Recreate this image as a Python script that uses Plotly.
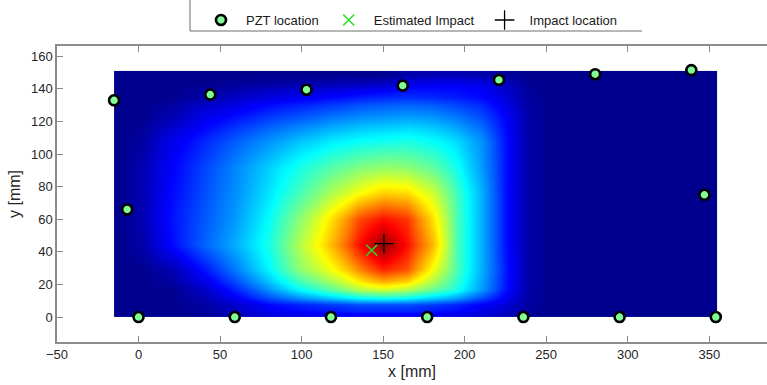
import plotly.graph_objects as go

# --- sensor layout [mm] ---
pzt_x = [0, 59, 118, 177, 236, 295, 354,
         -15, 44, 103, 162, 221, 280, 339,
         -7, 347]
pzt_y = [0, 0, 0, 0, 0, 0, 0,
         133, 136.5, 139.5, 142, 145.5, 149, 151.5,
         66, 75]

est_x = [143]
est_y = [41]
imp_x = [150.5]
imp_y = [45]

# --- damage index map: cell edges [mm] and normalised values ---
map_x_edges = [-15, -5, 10, 30, 50, 70, 90, 110, 128, 142, 158, 172,
               188, 202, 218, 232, 245, 260, 355]
map_y_edges = [0, 4, 12, 22, 36, 52, 68, 84, 100, 116, 130, 140, 146, 151]

map_z = [
    [0, 0, 0, 0.01, 0.05, 0.09, 0.10, 0.11, 0.12, 0.12, 0.12, 0.11, 0.10, 0.08, 0.05, 0.01, 0, 0],
    [0, 0, 0, 0.02, 0.07, 0.13, 0.16, 0.18, 0.20, 0.20, 0.20, 0.18, 0.16, 0.12, 0.08, 0.02, 0, 0],
    [0, 0, 0, 0.06, 0.16, 0.27, 0.38, 0.47, 0.55, 0.58, 0.55, 0.48, 0.40, 0.28, 0.14, 0.03, 0, 0],
    [0, 0, 0.04, 0.14, 0.25, 0.37, 0.52, 0.62, 0.74, 0.84, 0.79, 0.62, 0.45, 0.30, 0.15, 0.03, 0, 0],
    [0, 0.03, 0.13, 0.22, 0.30, 0.40, 0.56, 0.70, 0.86, 0.98, 0.86, 0.70, 0.45, 0.30, 0.14, 0.03, 0, 0],
    [0, 0.04, 0.14, 0.21, 0.28, 0.38, 0.52, 0.66, 0.80, 0.86, 0.82, 0.66, 0.45, 0.30, 0.14, 0.03, 0, 0],
    [0, 0.04, 0.13, 0.20, 0.27, 0.35, 0.45, 0.55, 0.62, 0.67, 0.66, 0.58, 0.44, 0.30, 0.14, 0.03, 0, 0],
    [0, 0.04, 0.12, 0.19, 0.26, 0.33, 0.40, 0.46, 0.50, 0.52, 0.51, 0.47, 0.39, 0.28, 0.14, 0.03, 0, 0],
    [0, 0.02, 0.10, 0.16, 0.22, 0.27, 0.32, 0.36, 0.38, 0.39, 0.40, 0.38, 0.34, 0.27, 0.14, 0.03, 0, 0],
    [0, 0, 0.04, 0.10, 0.14, 0.18, 0.21, 0.24, 0.26, 0.27, 0.28, 0.27, 0.24, 0.20, 0.12, 0.03, 0, 0],
    [0, 0, 0, 0.03, 0.06, 0.09, 0.11, 0.13, 0.15, 0.16, 0.17, 0.16, 0.15, 0.13, 0.08, 0.02, 0, 0],
    [0, 0, 0, 0, 0.01, 0.02, 0.03, 0.04, 0.05, 0.06, 0.10, 0.11, 0.11, 0.10, 0.06, 0.01, 0, 0],
    [0, 0, 0, 0, 0, 0, 0, 0, 0, 0, 0.03, 0.04, 0.04, 0.03, 0.01, 0, 0, 0],
]

x_ticks = [-50, 0, 50, 100, 150, 200, 250, 300, 350]
y_ticks = [0, 20, 40, 60, 80, 100, 120, 140, 160]

jet = [
    [0.0, "rgb(0,0,143)"],
    [0.125, "rgb(0,0,255)"],
    [0.375, "rgb(0,255,255)"],
    [0.625, "rgb(255,255,0)"],
    [0.875, "rgb(255,0,0)"],
    [1.0, "rgb(128,0,0)"],
]

FONT = "Liberation Sans, Arial, Helvetica, sans-serif"
AXIS_GREY = "#8c8c8c"

fig = go.Figure()

fig.add_trace(go.Heatmap(
    x=map_x_edges, y=map_y_edges, z=map_z,
    colorscale=jet, zmin=0, zmax=1, zsmooth="best",
    showscale=False, hoverinfo="skip", showlegend=False,
))

fig.add_trace(go.Scatter(
    x=pzt_x, y=pzt_y, mode="markers", name="PZT location",
    marker=dict(symbol="circle", size=10, color="rgb(128,255,150)",
                line=dict(color="black", width=2.6)),
))

fig.add_trace(go.Scatter(
    x=est_x, y=est_y, mode="markers", name="Estimated Impact",
    marker=dict(symbol="x-thin", size=11, color="rgb(40,220,40)",
                line=dict(color="rgb(40,220,40)", width=1.5)),
))

fig.add_trace(go.Scatter(
    x=imp_x, y=imp_y, mode="markers", name="Impact location",
    marker=dict(symbol="cross-thin", size=14, color="black",
                line=dict(color="black", width=1.3)),
))

# plot-area pixel geometry used to place the legend frame
L, R, T, B = 57, 767, 46, 342.3
def px_x(p):
    return (p - L) / (R - L)
def px_y(p):
    return (B - p) / (B - T)

fig.add_shape(type="line", xref="paper", yref="paper",
              x0=px_x(190), x1=px_x(190), y0=px_y(0), y1=px_y(31),
              line=dict(color="#6e6e6e", width=1))
fig.add_shape(type="line", xref="paper", yref="paper",
              x0=px_x(190), x1=px_x(642), y0=px_y(31), y1=px_y(31),
              line=dict(color="#6e6e6e", width=1))

fig.update_layout(
    width=767, height=385,
    margin=dict(l=L, r=0, t=T, b=385 - B),
    paper_bgcolor="white", plot_bgcolor="white",
    font=dict(family=FONT, size=13, color="#262626"),
    showlegend=True,
    legend=dict(orientation="h", x=px_x(196), xanchor="left",
                y=px_y(20), yanchor="middle", itemwidth=40,
                bgcolor="rgba(0,0,0,0)", borderwidth=0,
                font=dict(family=FONT, size=13, color="#1a1a1a"),
                itemclick=False),
    xaxis=dict(range=[-50, 385.4], tickvals=x_ticks, ticks="inside",
               ticklen=6, tickcolor=AXIS_GREY, showline=True,
               linecolor=AXIS_GREY, linewidth=1.5, mirror="ticks",
               showgrid=False, zeroline=False,
               title=dict(text="x [mm]", standoff=4),
               tickfont=dict(size=13)),
    yaxis=dict(range=[-15.3, 166.3], tickvals=y_ticks, ticks="inside",
               ticklen=6, tickcolor=AXIS_GREY, showline=True,
               linecolor=AXIS_GREY, linewidth=1.5, mirror=False,
               showgrid=False, zeroline=False,
               title=dict(text="y [mm]", standoff=6),
               tickfont=dict(size=13)),
)

fig.write_html("out.html")
